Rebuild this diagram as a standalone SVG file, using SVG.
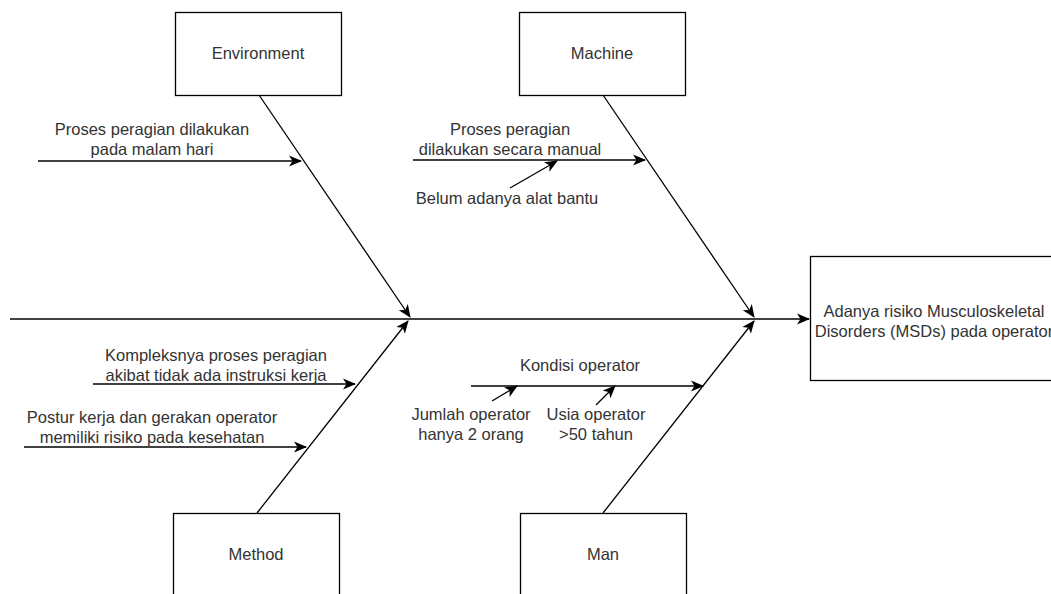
<svg xmlns="http://www.w3.org/2000/svg" width="1051" height="594" viewBox="0 0 1051 594">
<style>
.box{fill:#fff;stroke:#000;stroke-width:1.3}
.t{font-family:"Liberation Sans",Arial,sans-serif;font-size:16.5px;fill:#333;text-anchor:middle}
.c{stroke:#000;stroke-width:1.3;fill:none;marker-end:url(#ah)}
</style>
<defs>
<marker id="ah" markerUnits="userSpaceOnUse" markerWidth="14" markerHeight="12" viewBox="0 0 14 12" refX="12" refY="6" orient="auto">
<path d="M0,0.5 L13,6 L0,11.5 L3.5,6 z" fill="#000"/>
</marker>
</defs>
<rect width="1051" height="594" fill="#fff"/>
<g id="connectors">
<line class="c" x1="10" y1="319" x2="809" y2="319"/>
<line class="c" x1="259" y1="95" x2="410" y2="317"/>
<line class="c" x1="603" y1="95" x2="754" y2="317"/>
<line class="c" x1="257" y1="513" x2="408" y2="321"/>
<line class="c" x1="603" y1="513" x2="754" y2="321"/>
<line class="c" x1="38" y1="161" x2="301" y2="161"/>
<line class="c" x1="413" y1="160" x2="645" y2="160"/>
<line class="c" x1="510" y1="188" x2="557" y2="161"/>
<line class="c" x1="93" y1="384" x2="355" y2="384"/>
<line class="c" x1="24" y1="447" x2="306" y2="447"/>
<line class="c" x1="471" y1="386" x2="703" y2="386"/>
<line class="c" x1="492" y1="401" x2="517" y2="386"/>
<line class="c" x1="596" y1="405" x2="615" y2="386"/>
</g>
<g id="environment"><rect class="box" x="175.5" y="12.5" width="166" height="83"/><text class="t" x="258" y="59">Environment</text></g>
<g id="machine"><rect class="box" x="519.5" y="12.5" width="166" height="83"/><text class="t" x="602" y="59">Machine</text></g>
<g id="method"><rect class="box" x="173.5" y="513.5" width="166" height="90"/><text class="t" x="256" y="560">Method</text></g>
<g id="man"><rect class="box" x="520.5" y="513.5" width="166" height="90"/><text class="t" x="603" y="560">Man</text></g>
<g id="result"><rect class="box" x="810.5" y="256.5" width="260" height="124"/><text class="t" x="934" y="317">Adanya risiko Musculoskeletal</text><text class="t" x="934" y="337">Disorders (MSDs) pada operator</text></g>
<g id="env-cause"><text class="t" x="152" y="135">Proses peragian dilakukan</text><text class="t" x="152" y="155">pada malam hari</text></g>
<g id="machine-cause"><text class="t" x="510" y="135">Proses peragian</text><text class="t" x="510" y="155">dilakukan secara manual</text></g>
<g id="machine-sub"><text class="t" x="507" y="204">Belum adanya alat bantu</text></g>
<g id="method-cause1"><text class="t" x="216" y="361">Kompleksnya proses peragian</text><text class="t" x="216" y="381">akibat tidak ada instruksi kerja</text></g>
<g id="method-cause2"><text class="t" x="152" y="423">Postur kerja dan gerakan operator</text><text class="t" x="152" y="443">memiliki risiko pada kesehatan</text></g>
<g id="man-cause"><text class="t" x="580" y="371">Kondisi operator</text></g>
<g id="man-sub1"><text class="t" x="471" y="420">Jumlah operator</text><text class="t" x="471" y="440">hanya 2 orang</text></g>
<g id="man-sub2"><text class="t" x="596" y="420">Usia operator</text><text class="t" x="596" y="440">&gt;50 tahun</text></g>
</svg>
